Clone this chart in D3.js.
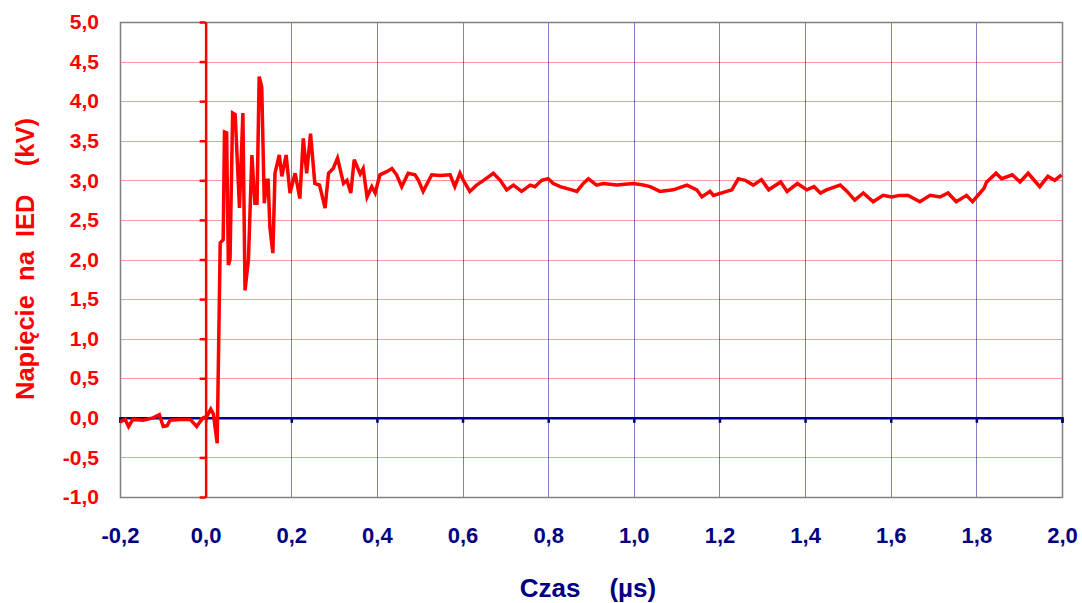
<!DOCTYPE html>
<html>
<head>
<meta charset="utf-8">
<script src="https://cdn.jsdelivr.net/npm/d3@7"></script>
<style>
  body { margin: 0; background: #fff; }
  text { font-family: "Liberation Sans", Arial, sans-serif; font-weight: bold; }
</style>
</head>
<body>
<div class="canvas"></div>
<script>
// time in µs, voltage in kV
const czas = [-0.200,-0.188,-0.180,-0.170,-0.146,-0.123,-0.108,-0.099,-0.090,-0.083,-0.060,-0.036,-0.021,-0.013,-0.006,0.003,0.012,0.018,0.027,0.034,0.041,0.044,0.049,0.053,0.057,0.063,0.069,0.079,0.087,0.092,0.100,0.108,0.115,0.120,0.125,0.131,0.137,0.143,0.146,0.150,0.157,0.162,0.172,0.178,0.188,0.197,0.209,0.220,0.228,0.236,0.245,0.255,0.266,0.279,0.287,0.298,0.308,0.322,0.330,0.339,0.347,0.361,0.368,0.377,0.388,0.396,0.407,0.423,0.435,0.446,0.458,0.473,0.489,0.497,0.508,0.528,0.547,0.571,0.582,0.594,0.602,0.617,0.633,0.649,0.672,0.688,0.703,0.719,0.738,0.758,0.769,0.785,0.800,0.812,0.828,0.855,0.867,0.882,0.894,0.913,0.929,0.960,0.999,1.022,1.038,1.061,1.092,1.124,1.147,1.159,1.178,1.186,1.217,1.229,1.244,1.260,1.279,1.298,1.315,1.343,1.358,1.382,1.404,1.421,1.436,1.450,1.482,1.498,1.516,1.536,1.559,1.582,1.602,1.621,1.641,1.668,1.692,1.715,1.734,1.753,1.777,1.791,1.818,1.824,1.846,1.859,1.884,1.902,1.921,1.932,1.948,1.967,1.983,1.999];
const napiecie = [-0.05,-0.02,-0.11,-0.02,-0.03,0.00,0.04,-0.11,-0.10,-0.03,-0.02,-0.02,-0.11,-0.05,0.00,0.02,0.11,0.05,-0.32,2.21,2.25,3.61,3.60,1.93,2.00,3.85,3.83,2.65,3.85,1.61,2.00,3.32,2.71,2.71,4.31,4.18,2.71,3.00,3.00,2.41,2.08,3.09,3.32,3.05,3.32,2.84,3.09,2.77,3.53,3.09,3.59,2.96,2.94,2.65,3.09,3.15,3.28,2.96,3.00,2.84,3.26,3.08,3.15,2.79,2.92,2.84,3.07,3.11,3.15,3.07,2.92,3.09,3.07,3.00,2.86,3.07,3.06,3.07,2.92,3.09,3.00,2.86,2.94,3.00,3.09,3.00,2.88,2.94,2.86,2.94,2.92,3.00,3.02,2.96,2.92,2.88,2.86,2.96,3.02,2.94,2.96,2.94,2.96,2.94,2.92,2.86,2.88,2.94,2.88,2.79,2.86,2.81,2.86,2.88,3.02,3.00,2.94,3.01,2.88,2.98,2.86,2.96,2.88,2.92,2.84,2.88,2.94,2.86,2.75,2.84,2.73,2.81,2.79,2.81,2.81,2.73,2.81,2.79,2.84,2.73,2.81,2.73,2.90,2.98,3.09,3.02,3.07,2.98,3.09,3.02,2.92,3.05,3.00,3.07];

const xTicks = [-0.2,0,0.2,0.4,0.6,0.8,1.0,1.2,1.4,1.6,1.8,2.0];
const yTicks = [-1,-0.5,0,0.5,1,1.5,2,2.5,3,3.5,4,4.5,5];

const margin = {top: 22, right: 20, bottom: 106, left: 120};
const graphWidth = 1082 - margin.left - margin.right;
const graphHeight = 603 - margin.top - margin.bottom;

const svg = d3.select('.canvas')
    .append('svg')
    .attr('width', 1082)
    .attr('height', 603);

const graph = svg.append('g')
    .attr('transform', `translate(${margin.left}, ${margin.top})`);

const x = d3.scaleLinear().domain([-0.2, 2.0]).range([0, graphWidth]);
const y = d3.scaleLinear().domain([-1, 5]).range([graphHeight, 0]);

const fmt = d => d.toFixed(1).replace('.', ',');

// grid
graph.append('g').selectAll('line')
    .data(yTicks.slice(1, -1))
    .enter().append('line')
    .attr('x1', 0).attr('x2', graphWidth)
    .attr('y1', d => Math.round(y(d)) + 0.5).attr('y2', d => Math.round(y(d)) + 0.5)
    .attr('stroke', '#ff0000').attr('stroke-opacity', 0.4).attr('stroke-width', 1);

graph.append('g').selectAll('line')
    .data(xTicks.slice(1, -1))
    .enter().append('line')
    .attr('x1', d => Math.round(x(d)) + 0.5).attr('x2', d => Math.round(x(d)) + 0.5)
    .attr('y1', 0).attr('y2', graphHeight)
    .attr('stroke', '#000080').attr('stroke-opacity', 0.5).attr('stroke-width', 1);

// plot border
graph.append('rect')
    .attr('x', 0.5).attr('y', 0.5)
    .attr('width', graphWidth).attr('height', graphHeight)
    .attr('fill', 'none').attr('stroke', '#808080').attr('stroke-width', 1.5);

// x axis at zero
const xAxisLine = graph.append('g')
    .attr('transform', `translate(0, ${y(0)})`)
    .call(d3.axisBottom(x).tickValues(xTicks).tickSize(5).tickFormat(''));
xAxisLine.select('.domain').attr('stroke', '#000080').attr('stroke-width', 2.5);
xAxisLine.selectAll('.tick line').attr('stroke', '#000080').attr('stroke-width', 2.5);

// trace
const pts = czas.map((t, i) => [t, napiecie[i]]);
const line = d3.line().x(d => x(d[0])).y(d => y(d[1]));
graph.append('path')
    .datum(pts)
    .attr('d', line)
    .attr('fill', 'none')
    .attr('stroke', '#ff0000')
    .attr('stroke-width', 3.5)
    .attr('stroke-linejoin', 'miter');

// y axis at t = 0
const yAxisLine = graph.append('g')
    .attr('transform', `translate(${x(0)}, 0)`)
    .call(d3.axisLeft(y).tickValues(yTicks).tickSize(6).tickSizeOuter(0).tickFormat(''));
yAxisLine.select('.domain').attr('stroke', '#ff0000').attr('stroke-width', 2.5);
yAxisLine.selectAll('.tick line').attr('stroke', '#ff0000').attr('stroke-width', 2.5);

// y tick labels
const yLab = graph.append('g')
    .call(d3.axisLeft(y).tickValues(yTicks).tickSize(0).tickPadding(21).tickFormat(fmt));
yLab.select('.domain').remove();
yLab.selectAll('text').attr('fill', '#ff0000').attr('font-size', 21)
    .style('font-family', '"Liberation Sans", Arial, sans-serif').style('font-weight', 'bold');

// x tick labels
const xLab = graph.append('g')
    .attr('transform', `translate(0, ${graphHeight})`)
    .call(d3.axisBottom(x).tickValues(xTicks).tickSize(0).tickPadding(30).tickFormat(fmt));
xLab.select('.domain').remove();
xLab.selectAll('text').attr('fill', '#000080').attr('font-size', 22)
    .style('font-family', '"Liberation Sans", Arial, sans-serif').style('font-weight', 'bold');

// titles
svg.append('text')
    .attr('x', 588).attr('y', 597)
    .attr('text-anchor', 'middle')
    .attr('fill', '#000080')
    .style('font-size', '26px')
    .style('white-space', 'pre')
    .text('Czas    (\u00b5s)');

svg.append('text')
    .attr('transform', 'translate(34, 259) rotate(-90)')
    .attr('text-anchor', 'middle')
    .attr('fill', '#ff0000')
    .style('font-size', '25.5px')
    .style('white-space', 'pre')
    .text('Napięcie  na  IED    (kV)');
</script>
</body>
</html>
